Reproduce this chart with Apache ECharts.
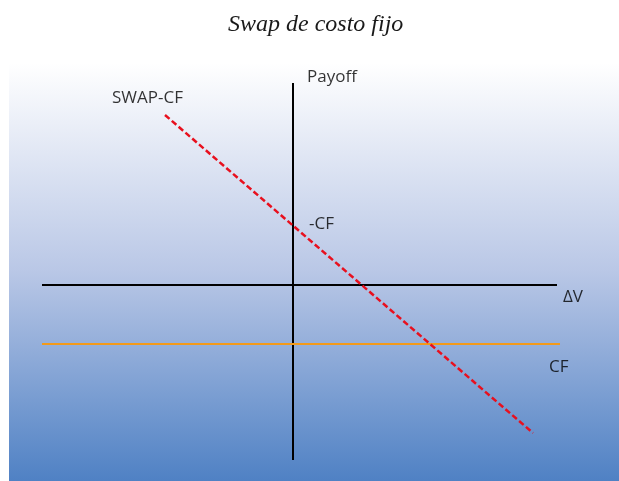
<!DOCTYPE html>
<html>
<head>
<meta charset="utf-8">
<script src="https://cdn.jsdelivr.net/npm/echarts@6/dist/echarts.min.js"></script>
<style>
  html, body { margin: 0; padding: 0; background: #fff; }
  #chart { width: 619px; height: 481px; }
</style>
</head>
<body>
<div id="chart"></div>
<script>
// ejes (unidades esquemáticas, origen en el cruce de los ejes)
const deltaVAxisX = [-251, 264];
const payoffAxisY = [202, -175];
// línea de costo fijo (CF)
const cfX = [-251, 267];
const cfLevel = -59;
// swap - CF
const swapX = [-128, 240];
const swapY = [170, -148];
// etiquetas
const labelNames = ['Payoff', 'SWAP-CF', '-CF', 'ΔV', 'CF'];
const labelX = [14, -181, 16, 270, 256];
const labelY = [208, 187, 61, -12, -82];

const chart = echarts.init(document.getElementById('chart'));

chart.setOption({
  animation: false,
  title: {
    text: 'Swap de costo fijo',
    left: 223,
    top: 8,
    textStyle: {
      fontFamily: 'Liberation Serif',
      fontStyle: 'italic',
      fontWeight: 'normal',
      fontSize: 24,
      color: '#1a1a1a'
    }
  },
  grid: {
    left: 9,
    right: 0,
    top: 63,
    bottom: 0,
    show: true,
    borderWidth: 0,
    backgroundColor: new echarts.graphic.LinearGradient(0, 0, 0, 1, [
      { offset: 0, color: '#ffffff' },
      { offset: 0.5, color: '#b9c7e6' },
      { offset: 1, color: '#4f81c4' }
    ])
  },
  xAxis: { type: 'value', min: -284, max: 326, show: false },
  yAxis: { type: 'value', min: -196, max: 222, show: false },
  series: [
    {
      // eje ΔV
      type: 'line',
      data: deltaVAxisX.map(x => [x, 0]),
      symbol: 'none',
      lineStyle: { color: '#000', width: 2 }
    },
    {
      // eje Payoff
      type: 'line',
      data: payoffAxisY.map(y => [0, y]),
      symbol: 'none',
      lineStyle: { color: '#000', width: 2 }
    },
    {
      // CF
      type: 'line',
      data: cfX.map(x => [x, cfLevel]),
      symbol: 'none',
      lineStyle: { color: '#f39a1a', width: 2 }
    },
    {
      // SWAP-CF
      type: 'line',
      data: swapX.map((x, i) => [x, swapY[i]]),
      symbol: 'none',
      lineStyle: { color: '#e8101e', width: 2.5, type: [6, 3] }
    },
    {
      type: 'scatter',
      symbolSize: 0,
      data: labelNames.map((n, i) => ({ name: n, value: [labelX[i], labelY[i]] })),
      label: {
        show: true,
        position: 'right',
        distance: 0,
        formatter: '{b}',
        fontFamily: 'Open Sans',
        fontSize: 17,
        color: '#000'
      }
    }
  ]
});
</script>
</body>
</html>
